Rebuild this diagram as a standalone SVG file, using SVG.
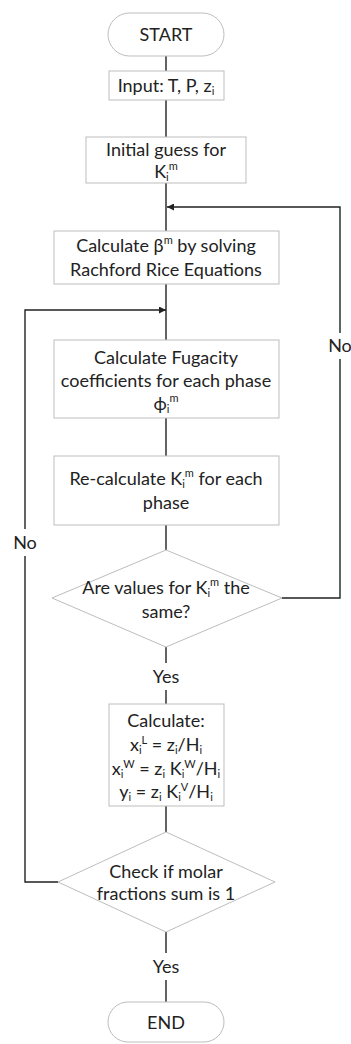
<svg xmlns="http://www.w3.org/2000/svg" width="351" height="1044" viewBox="0 0 351 1044">
<style>
.n{fill:#fff;stroke:#bdbdbd;stroke-width:1}
.c{fill:none;stroke:#222;stroke-width:1.4}
text{font-family:Lato,"Open Sans","Liberation Sans",sans-serif;font-size:18px;fill:#222;text-anchor:middle}
.s{font-size:11px}
</style>
<defs>
<marker id="ah" viewBox="0 0 10 10" refX="10" refY="5" markerWidth="7" markerHeight="7" orient="auto" markerUnits="userSpaceOnUse">
<path d="M0,0 L10,5 L0,10 z" fill="#222"/>
</marker>
</defs>
<rect width="351" height="1044" fill="#fff"/>
<g id="connectors">
<line class="c" x1="166" y1="56" x2="166" y2="71"/>
<line class="c" x1="166" y1="100" x2="166" y2="137"/>
<line class="c" x1="166" y1="183" x2="166" y2="231"/>
<line class="c" x1="166" y1="284" x2="166" y2="340"/>
<line class="c" x1="166" y1="418" x2="166" y2="456"/>
<line class="c" x1="166" y1="525" x2="166" y2="550"/>
<line class="c" x1="166" y1="647" x2="166" y2="663"/>
<line class="c" x1="166" y1="690" x2="166" y2="704"/>
<line class="c" x1="166" y1="806" x2="166" y2="832"/>
<line class="c" x1="166" y1="932" x2="166" y2="953"/>
<line class="c" x1="166" y1="980" x2="166" y2="1002"/>
<polyline class="c" points="282,598 340,598 340,359"/>
<polyline class="c" points="340,333 340,207 167,207" marker-end="url(#ah)"/>
<polyline class="c" points="58,882 25,882 25,556"/>
<polyline class="c" points="25,529 25,310 166,310" marker-end="url(#ah)"/>
<text x="340" y="352">No</text>
<text x="25" y="549">No</text>
<text x="166" y="683">Yes</text>
<text x="166" y="973">Yes</text>
</g>
<g id="start">
<rect class="n" x="108" y="13" width="116" height="43" rx="21.5"/>
<text x="166" y="41">START</text>
</g>
<g id="input">
<rect class="n" x="109" y="71" width="115" height="29"/>
<text x="166" y="92">Input: T, P, z<tspan class="s" dy="3">i</tspan></text>
</g>
<g id="guess">
<rect class="n" x="86" y="137" width="160" height="46"/>
<text x="166" y="156">Initial guess for</text>
<text x="166" y="178">K<tspan class="s" dy="3">i</tspan><tspan class="s" dy="-11">m</tspan></text>
</g>
<g id="beta">
<rect class="n" x="54" y="231" width="225" height="53"/>
<text x="166" y="252">Calculate β<tspan class="s" dy="-8">m</tspan><tspan dy="8"> by solving</tspan></text>
<text x="166" y="276">Rachford Rice Equations</text>
</g>
<g id="fugacity">
<rect class="n" x="54" y="340" width="225" height="78"/>
<text x="166" y="364">Calculate Fugacity</text>
<text x="166" y="387">coefficients for each phase</text>
<text x="166" y="410">ϕ<tspan class="s" dy="3">i</tspan><tspan class="s" dy="-11">m</tspan></text>
</g>
<g id="recalc">
<rect class="n" x="54" y="456" width="225" height="69"/>
<text x="166" y="485">Re-calculate K<tspan class="s" dy="3">i</tspan><tspan class="s" dy="-11">m</tspan><tspan dy="8"> for each</tspan></text>
<text x="166" y="509">phase</text>
</g>
<g id="same">
<polygon class="n" points="166,550 282,598 166,647 52,598"/>
<text x="166" y="594">Are values for K<tspan class="s" dy="3">i</tspan><tspan class="s" dy="-11">m</tspan><tspan dy="8"> the</tspan></text>
<text x="166" y="618">same?</text>
</g>
<g id="calc">
<rect class="n" x="109" y="704" width="115" height="102"/>
<text x="166" y="727">Calculate:</text>
<text x="166" y="751">x<tspan class="s" dy="3">i</tspan><tspan class="s" dy="-10">L</tspan><tspan dy="7"> = z</tspan><tspan class="s" dy="3">i</tspan><tspan dy="-3">/H</tspan><tspan class="s" dy="3">i</tspan></text>
<text x="166" y="775">x<tspan class="s" dy="3">i</tspan><tspan class="s" dy="-10">W</tspan><tspan dy="7"> = z</tspan><tspan class="s" dy="3">i</tspan><tspan dy="-3"> K</tspan><tspan class="s" dy="3">i</tspan><tspan class="s" dy="-10">W</tspan><tspan dy="7">/H</tspan><tspan class="s" dy="3">i</tspan></text>
<text x="166" y="798">y<tspan class="s" dy="3">i</tspan><tspan dy="-3"> = z</tspan><tspan class="s" dy="3">i</tspan><tspan dy="-3">  K</tspan><tspan class="s" dy="3">i</tspan><tspan class="s" dy="-10">V</tspan><tspan dy="7">/H</tspan><tspan class="s" dy="3">i</tspan></text>
</g>
<g id="check">
<polygon class="n" points="166,832 275,882 166,932 58,882"/>
<text x="166" y="878">Check if molar</text>
<text x="166" y="900">fractions sum is 1</text>
</g>
<g id="end">
<rect class="n" x="108" y="1002" width="116" height="40" rx="20"/>
<text x="166" y="1029">END</text>
</g>
</svg>
